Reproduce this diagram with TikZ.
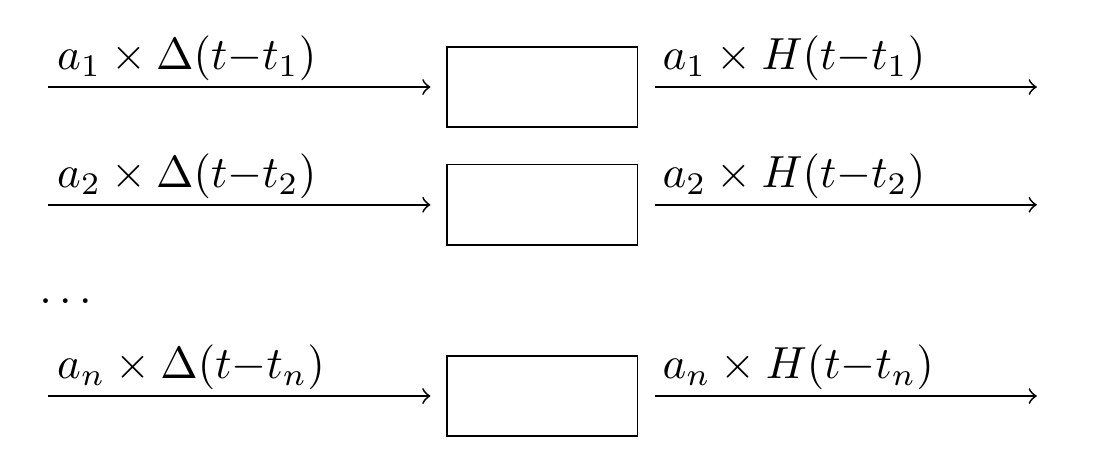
\documentclass[tikz,border=0pt]{standalone}
\usepackage{amsmath}
\usepackage{tikz}
\usetikzlibrary{positioning}

\begin{document}
\begin{tikzpicture}[
        every node/.style={font=\normalsize},
        block/.style={draw, minimum width=1.49cm, minimum height=0.63cm, inner sep=0pt},
        lbl/.style={anchor=base west, inner sep=0pt},
        arrow/.style={->, thin}
    ]
        \useasboundingbox (0,0) rectangle (8.617,-3.633);

        % Blocks
        \node[block] (blk1) at (4.235,-0.68) {};
        \node[block] (blk2) at (4.235,-1.60) {};
        \node[block] (blkn) at (4.235,-3.094) {};

        % Input and output ends
        \coordinate (in1) at (0.375,-0.68);
        \coordinate (in2) at (0.375,-1.60);
        \coordinate (inn) at (0.375,-3.094);
        \coordinate (out1) at (8.10,-0.68);
        \coordinate (out2) at (8.10,-1.60);
        \coordinate (outn) at (8.10,-3.094);

        % Labels
        \node[lbl] (lin1) at (0.44,-0.545) {$a_1 \times \Delta(t{-}t_1)$};
        \node[lbl] (lin2) at (0.44,-1.465) {$a_2 \times \Delta(t{-}t_2)$};
        \node[lbl] (linn) at (0.44,-2.959) {$a_n \times \Delta(t{-}t_n)$};
        \node[lbl] (lout1) at (5.17,-0.545) {$a_1 \times H(t{-}t_1)$};
        \node[lbl] (lout2) at (5.17,-1.465) {$a_2 \times H(t{-}t_2)$};
        \node[lbl] (loutn) at (5.17,-2.959) {$a_n \times H(t{-}t_n)$};
        \node[lbl] (dots) at (0.30,-2.37) {$\dots$};

        % Arrows
        \draw[arrow, shorten >=0.12cm] (in1) -- (blk1.west);
        \draw[arrow, shorten >=0.12cm] (in2) -- (blk2.west);
        \draw[arrow, shorten >=0.12cm] (inn) -- (blkn.west);
        \draw[arrow, shorten <=0.13cm] (blk1.east) -- (out1);
        \draw[arrow, shorten <=0.13cm] (blk2.east) -- (out2);
        \draw[arrow, shorten <=0.13cm] (blkn.east) -- (outn);
    \end{tikzpicture}
\end{document}
